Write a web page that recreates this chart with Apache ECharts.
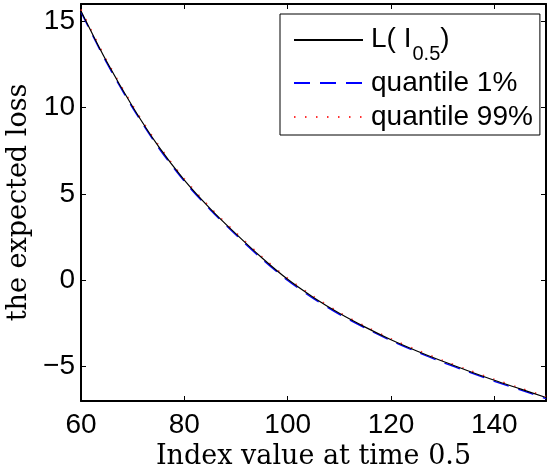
<!DOCTYPE html>
<html>
<head>
<meta charset="utf-8">
<script src="https://cdn.jsdelivr.net/npm/echarts@6/dist/echarts.min.js"></script>
<style>
  html, body { margin: 0; padding: 0; background: #fff; }
  #chart { width: 547px; height: 473px; }
</style>
</head>
<body>
<div id="chart"></div>
<script>
// Index level at t = 0.5
const indexValues = [60, 65, 70, 75, 80, 85, 90, 95, 100, 105, 110, 115, 120, 125, 130, 135, 140, 145, 150];
// Expected loss L(I_0.5)
const expectedLoss = [15.6, 12.65, 10.05, 7.75, 5.8, 4.15, 2.68, 1.3, 0.05, -1.0, -1.92, -2.72, -3.45, -4.1, -4.7, -5.26, -5.8, -6.3, -6.8];
// 1% and 99% quantile bands
const quantile1 = [15.52, 12.57, 9.97, 7.67, 5.72, 4.08, 2.61, 1.23, -0.02, -1.07, -1.98, -2.78, -3.51, -4.16, -4.76, -5.32, -5.86, -6.36, -6.86];
const quantile99 = [15.68, 12.73, 10.13, 7.83, 5.88, 4.22, 2.75, 1.37, 0.12, -0.93, -1.86, -2.66, -3.39, -4.04, -4.64, -5.2, -5.74, -6.24, -6.74];

const xTicks = [60, 80, 100, 120, 140];
const yTicks = [-5, 0, 5, 10, 15];
const seriesNames = ['L( I0.5)', 'quantile 1%', 'quantile 99%'];

const sansFont = '"Liberation Sans", Arial, sans-serif';
const serifFont = '"DejaVu Serif", serif';

const toPairs = ys => indexValues.map((x, i) => [x, ys[i]]);
const tickText = v => String(v).replace('-', '\u2212');

const frameLine = { onZero: false, lineStyle: { color: '#000', width: 2 } };

function boxAxis(position, min, max, ticks, withLabels, extra) {
  return Object.assign({
    type: 'value',
    position: position,
    min: min,
    max: max,
    axisLine: frameLine,
    axisTick: { inside: true, length: 5, customValues: ticks, lineStyle: { color: '#000', width: 1 } },
    axisLabel: withLabels
      ? { customValues: ticks, formatter: tickText, fontFamily: sansFont, fontSize: 28, color: '#000' }
      : { show: false },
    splitLine: { show: false }
  }, extra || {});
}

const xBottom = boxAxis('bottom', 60, 150, xTicks, true, {
  name: 'Index value at time 0.5',
  nameLocation: 'middle',
  nameGap: 35,
  nameTextStyle: { fontFamily: serifFont, fontSize: 27, color: '#000' }
});
xBottom.axisLabel.margin = 10;

const yLeft = boxAxis('left', -7, 16, yTicks, true, {
  name: 'the expected loss',
  nameLocation: 'middle',
  nameGap: 48,
  nameTextStyle: { fontFamily: serifFont, fontSize: 27, color: '#000' }
});
yLeft.axisLabel.margin = 6;

const option = {
  animation: false,
  backgroundColor: '#fff',
  grid: { left: 81, right: 1, top: 4, bottom: 72, containLabel: false, outerBoundsMode: 'none' },
  xAxis: [xBottom, boxAxis('top', 60, 150, xTicks, false)],
  yAxis: [yLeft, boxAxis('right', -7, 16, yTicks, false)],
  legend: {
    orient: 'vertical',
    left: 280,
    top: 14,
    padding: [11, 7, 3, 13],
    itemWidth: 69,
    // tiny height keeps the line-series marker out of the key, only the stroke shows
    itemHeight: 0.1,
    itemGap: 4,
    borderColor: '#000',
    borderWidth: 1,
    backgroundColor: '#fff',
    selectedMode: false,
    data: seriesNames,
    formatter: function (name) {
      if (name === seriesNames[0]) return '{m|L( I}{s|0.5}{m|)}';
      return name;
    },
    textStyle: {
      fontFamily: sansFont,
      fontSize: 28,
      lineHeight: 30,
      color: '#000',
      padding: [0, 0, 0, 3],
      rich: {
        m: { fontFamily: sansFont, fontSize: 28, lineHeight: 30, verticalAlign: 'top', color: '#000' },
        s: { fontFamily: sansFont, fontSize: 20, lineHeight: 20, padding: [19, 0, 0, 1], verticalAlign: 'top', color: '#000' }
      }
    }
  },
  series: [
    {
      name: seriesNames[0], type: 'line', data: toPairs(expectedLoss),
      symbol: 'none', smooth: 0.3, z: 4, silent: true,
      lineStyle: { color: '#000', width: 1.2 }, itemStyle: { color: '#000' }
    },
    {
      name: seriesNames[1], type: 'line', data: toPairs(quantile1),
      symbol: 'none', smooth: 0.3, z: 2, silent: true,
      lineStyle: { color: '#0000ff', width: 1.3, type: [16, 10] }, itemStyle: { color: '#0000ff' }
    },
    {
      name: seriesNames[2], type: 'line', data: toPairs(quantile99),
      symbol: 'none', smooth: 0.3, z: 3, silent: true,
      lineStyle: { color: '#ff3030', width: 1.5, type: [1.5, 9.5] }, itemStyle: { color: '#ff3030' }
    }
  ]
};

const chart = echarts.init(document.getElementById('chart'), null, { renderer: 'canvas' });
chart.setOption(option);
</script>
</body>
</html>
